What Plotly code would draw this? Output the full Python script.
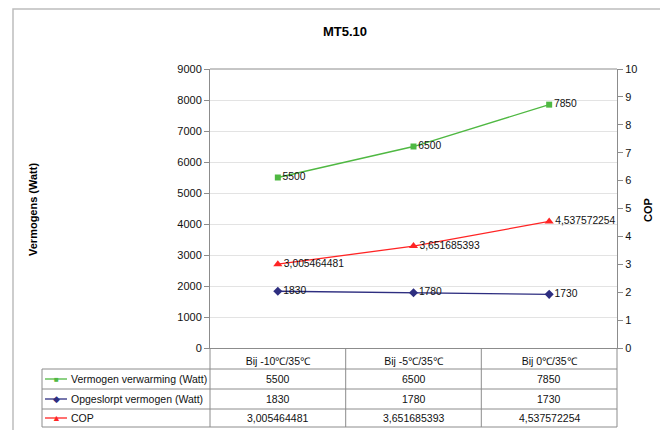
import plotly.graph_objects as go

categories = ["Bij -10℃/35℃", "Bij -5℃/35℃", "Bij 0℃/35℃"]
verwarming = [5500, 6500, 7850]
opgeslorpt = [1830, 1780, 1730]
cop = [3.005464481, 3.651685393, 4.537572254]

series_names = ["Vermogen verwarming (Watt)", "Opgeslorpt vermogen (Watt)", "COP"]
left_ticks = [0, 1000, 2000, 3000, 4000, 5000, 6000, 7000, 8000, 9000]
right_ticks = [0, 1, 2, 3, 4, 5, 6, 7, 8, 9, 10]

GREEN = "#4FB842"
BLUE = "#2E2E80"
RED = "#FF2424"
FONT = "Liberation Sans, Arial, sans-serif"


def fmt_int(v):
    return str(v)


def fmt_cop(v):
    return f"{v:.9f}".replace(".", ",")


txt_verw = [fmt_int(v) for v in verwarming]
txt_opg = [fmt_int(v) for v in opgeslorpt]
txt_cop = [fmt_cop(v) for v in cop]

LABEL_SIZE = 10.3
TABLE_SIZE = 10.5

fig = go.Figure()
fig.add_trace(go.Scatter(
    x=categories, y=verwarming, mode="lines+markers+text", name=series_names[0],
    text=txt_verw, textposition="middle right", textfont=dict(size=LABEL_SIZE, color="#111"),
    line=dict(color=GREEN, width=1.3), marker=dict(symbol="square", size=6, color=GREEN),
    yaxis="y", cliponaxis=False))
fig.add_trace(go.Scatter(
    x=categories, y=opgeslorpt, mode="lines+markers+text", name=series_names[1],
    text=txt_opg, textposition="middle right", textfont=dict(size=LABEL_SIZE, color="#111"),
    line=dict(color=BLUE, width=1.3), marker=dict(symbol="diamond", size=7, color=BLUE),
    yaxis="y", cliponaxis=False))
fig.add_trace(go.Scatter(
    x=categories, y=cop, mode="lines+markers+text", name=series_names[2],
    text=txt_cop, textposition="middle right", textfont=dict(size=LABEL_SIZE, color="#111"),
    line=dict(color=RED, width=1.3), marker=dict(symbol="triangle-up", size=8, color=RED),
    yaxis="y2", cliponaxis=False))

# geometry helpers (pixel -> paper)
L, R, T, B = 210, 617, 69, 348
W, H = R - L, B - T


def px(x):
    return (x - L) / W


def py(y):
    return (B - y) / H


shapes = []
line_col = "#8C8C8C"
# outer chart frame
shapes.append(dict(type="rect", xref="paper", yref="paper", x0=px(13), x1=px(700),
                   y0=py(470), y1=py(9), line=dict(color="#BDBDBD", width=1.5)))
# top plot border
shapes.append(dict(type="line", xref="paper", yref="paper", x0=0, x1=1, y0=1, y1=1,
                   line=dict(color=line_col, width=1)))
# table rows
row_y = [369, 389, 409, 427]
for yy in row_y:
    shapes.append(dict(type="line", xref="paper", yref="paper", x0=px(42), x1=1,
                       y0=py(yy), y1=py(yy), line=dict(color=line_col, width=1)))
# table columns
for xx in [210, 345.7, 481.3, 617]:
    shapes.append(dict(type="line", xref="paper", yref="paper", x0=px(xx), x1=px(xx),
                       y0=py(348), y1=py(427), line=dict(color=line_col, width=1)))
shapes.append(dict(type="line", xref="paper", yref="paper", x0=px(42), x1=px(42),
                   y0=py(369), y1=py(427), line=dict(color=line_col, width=1)))


def ann(text, x, y, xref="paper", size=11, color="#111", xanchor="center", angle=0):
    return dict(text=text, xref=xref, yref="paper", x=x, y=y, showarrow=False,
                xanchor=xanchor, yanchor="middle", textangle=angle,
                font=dict(size=size, color=color))


annotations = []
annotations.append(ann("<b>MT5.10</b>", px(345), py(31), size=13, color="#000"))
annotations.append(ann("<b>Vermogens (Watt)</b>", px(33), py(210), color="#000", angle=-90))
annotations.append(ann("<b>COP</b>", px(648), py(210), color="#000", angle=-90))

# table content
row_centers = [379, 399, 418]
row_texts = [txt_verw, txt_opg, txt_cop]
colors = [GREEN, BLUE, RED]
symbols = ["■", "◆", "▲"]
sym_sizes = [8, 9, 9]
for i in range(3):
    yc = py(row_centers[i])
    for j, c in enumerate(categories):
        annotations.append(ann(row_texts[i][j], c, yc, xref="x", size=TABLE_SIZE))
    shapes.append(dict(type="line", xref="paper", yref="paper", x0=px(45), x1=px(67),
                       y0=yc, y1=yc, line=dict(color=colors[i], width=1.3)))
    annotations.append(ann(symbols[i], px(56), yc, size=sym_sizes[i], color=colors[i]))
    annotations.append(ann(series_names[i], px(69), yc, xanchor="left", size=TABLE_SIZE))

fig.update_layout(
    width=660, height=430,
    margin=dict(l=L, r=660 - R, t=T, b=430 - B, autoexpand=False),
    paper_bgcolor="white", plot_bgcolor="white",
    font=dict(family=FONT, size=11, color="#111"),
    showlegend=False,
    shapes=shapes, annotations=annotations,
    xaxis=dict(type="category", range=[-0.5, 2.5], showgrid=False, zeroline=False,
               showline=True, linecolor=line_col, linewidth=1, ticks="",
               tickfont=dict(size=TABLE_SIZE, color="#111"), ticklabelstandoff=3),
    yaxis=dict(range=[0, 9000], tickvals=left_ticks, tickformat="d", showgrid=True,
               gridcolor="#E3E3E3", gridwidth=1, zeroline=False, showline=True,
               linecolor=line_col, linewidth=1, ticks="outside", ticklen=5, tickcolor=line_col,
               tickfont=dict(size=11, color="#111")),
    yaxis2=dict(range=[0, 10], tickvals=right_ticks, overlaying="y", side="right",
                showgrid=False, zeroline=False, showline=True, linecolor=line_col, linewidth=1,
                ticks="outside", ticklen=5, tickcolor=line_col, tickfont=dict(size=11, color="#111")),
)

fig.write_html("out.html", post_script="document.body.style.margin='0';",
               config={"displayModeBar": False})
